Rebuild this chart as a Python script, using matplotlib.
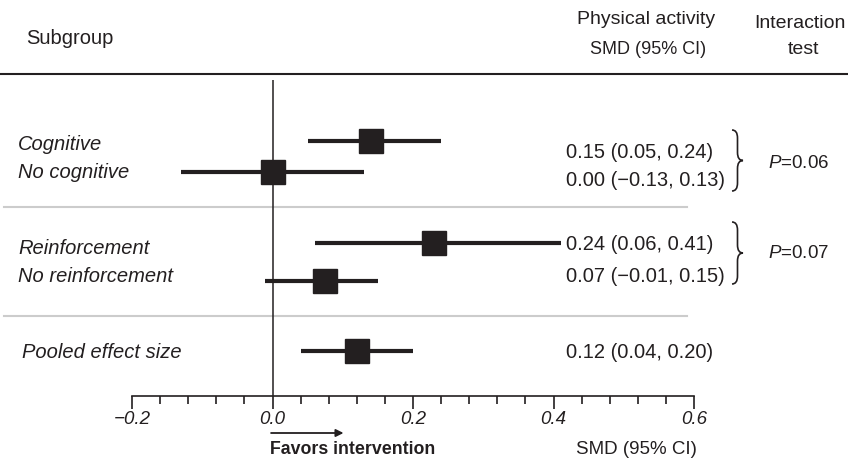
import numpy as np
import matplotlib.pyplot as plt
from matplotlib.path import Path
from matplotlib.patches import PathPatch
from matplotlib.ticker import MultipleLocator

plt.rcParams['font.family'] = ['Liberation Sans', 'DejaVu Sans']
plt.rcParams['mathtext.fontset'] = 'custom'
plt.rcParams['mathtext.it'] = 'Liberation Sans:italic'
plt.rcParams['mathtext.rm'] = 'Liberation Sans'

# data
labels = ['Cognitive', 'No cognitive', 'Reinforcement', 'No reinforcement', 'Pooled effect size']
smd = [0.14, 0.00, 0.23, 0.075, 0.12]   # square positions as drawn
lo = [0.05, -0.13, 0.06, -0.01, 0.04]
hi = [0.24, 0.13, 0.41, 0.15, 0.20]
est_text = ['0.15 (0.05, 0.24)', '0.00 (\u22120.13, 0.13)', '0.24 (0.06, 0.41)',
            '0.07 (\u22120.01, 0.15)', '0.12 (0.04, 0.20)']
p_values = ['0.06', '0.07']

# layout (pixel rows)
W, H = 848, 462
row_y = [141, 172, 243, 281, 351]
lab_y = [145, 172, 248, 277, 352]
txt_y = [152, 180, 245, 277, 353]
ink = '#231f20'

fig = plt.figure(figsize=(W / 100, H / 100), dpi=100)

# overlay in pixel units for header and texts
lay = fig.add_axes([0, 0, 1, 1])
lay.set_xlim(0, W)
lay.set_ylim(H, 0)
lay.axis('off')

ax_top, ax_bot = 80, 396
ax = fig.add_axes([132 / W, (H - ax_bot) / H, 562 / W, (ax_bot - ax_top) / H])
ax.patch.set_alpha(0)
ax.set_xlim(-0.2, 0.6)
ax.set_ylim(ax_bot, ax_top)
for s in ['top', 'left', 'right']:
    ax.spines[s].set_visible(False)
ax.spines['bottom'].set_linewidth(1.2)
ax.spines['bottom'].set_color(ink)
ax.set_yticks([])
ax.xaxis.set_major_locator(MultipleLocator(0.2))
ax.xaxis.set_minor_locator(MultipleLocator(0.04))
ax.tick_params(axis='x', which='major', length=9, width=1.2, pad=2, color=ink,
               labelsize=13.5, labelcolor=ink)
ax.tick_params(axis='x', which='minor', length=5.5, width=1.2, color=ink)
ax.set_xticklabels([f'{v:.1f}'.replace('-', '\u2212') for v in ax.get_xticks()], style='italic')

ax.axvline(0, color=ink, lw=1.1)

for i in range(len(smd)):
    ax.plot([lo[i], hi[i]], [row_y[i], row_y[i]], color=ink, lw=3, solid_capstyle='butt')
    ax.plot(smd[i], row_y[i], marker='s', ms=17.5, color=ink, mec=ink, mew=1)

# header
lay.plot([0, W], [74, 74], color=ink, lw=1.5)
lay.text(26, 39, 'Subgroup', fontsize=14.5, va='center', color=ink)
lay.text(646, 19, 'Physical activity', fontsize=14, ha='center', va='center', color=ink)
lay.text(648, 49, 'SMD (95% CI)', fontsize=13, ha='center', va='center', color=ink)
lay.text(846, 23, 'Interaction', fontsize=14, ha='right', va='center', color=ink)
lay.text(803, 49, 'test', fontsize=14, ha='center', va='center', color=ink)

# separators
for y in [207, 316]:
    lay.plot([4, 687], [y, y], color='#cccccc', lw=1.5)

# row labels and estimates
for i in range(len(labels)):
    lay.text(18 if i < 4 else 22, lab_y[i], labels[i], fontsize=14.5, style='italic',
             va='center', color=ink)
    lay.text(566, txt_y[i], est_text[i], fontsize=14.5, va='center', color=ink)


def brace(x, y0, y1, w):
    ym = (y0 + y1) / 2
    r = 8
    xm = x + w / 2
    verts = [(x, y0), (xm, y0), (xm, y0 + r), (xm, ym - r), (xm, ym), (x + w, ym),
             (xm, ym), (xm, ym + r), (xm, y1 - r), (xm, y1), (x, y1)]
    codes = [Path.MOVETO, Path.CURVE3, Path.CURVE3, Path.LINETO, Path.CURVE3, Path.CURVE3,
             Path.CURVE3, Path.CURVE3, Path.LINETO, Path.CURVE3, Path.CURVE3]
    lay.add_patch(PathPatch(Path(verts, codes), fill=False, lw=1.2, color=ink))


brace(732, 130, 191, 11)
brace(732, 222, 284, 11)
lay.text(768, 163, '$P$=' + p_values[0], fontsize=13.5, va='center', color=ink)
lay.text(768, 254, '$P$=' + p_values[1], fontsize=13.5, va='center', color=ink)

# footer
ax.annotate('', xy=(0.105, 433), xytext=(-0.006, 433), annotation_clip=False,
            arrowprops=dict(arrowstyle='-|>', color=ink, lw=1.3, mutation_scale=11))
lay.text(270, 450, 'Favors intervention', fontsize=12.8, weight='bold', va='center', color=ink)
lay.text(576, 450, 'SMD (95% CI)', fontsize=13.5, va='center', color=ink)

fig.savefig('out.png', dpi=100)
